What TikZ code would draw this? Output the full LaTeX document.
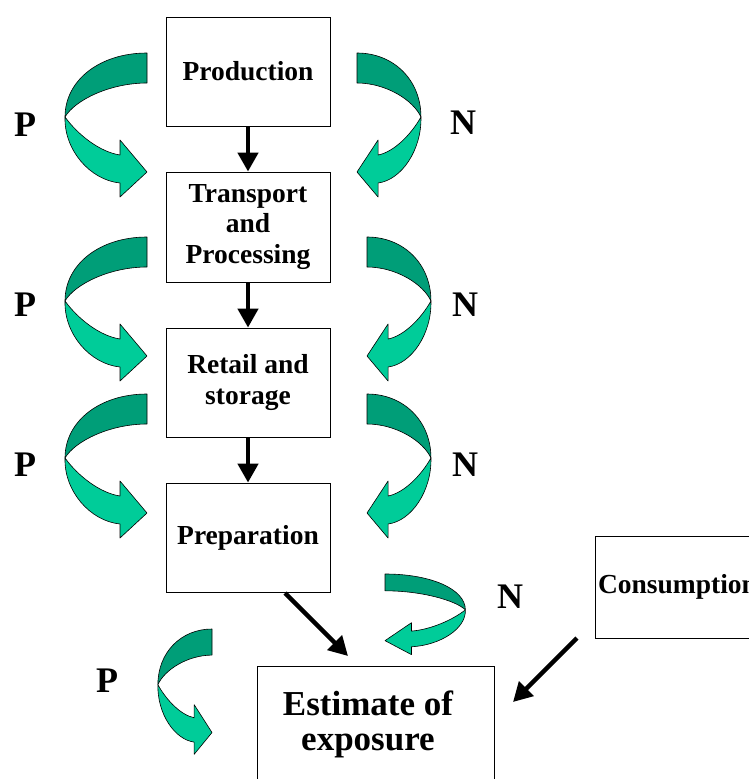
\documentclass[tikz,border=0pt]{standalone}
\usepackage{fontspec}
\setmainfont{Liberation Serif}
\usetikzlibrary{arrows.meta}
\definecolor{backgreen}{RGB}{0,158,120}
\definecolor{frontgreen}{RGB}{0,204,153}
\tikzset{
  stagebox/.style={draw,line width=0.8pt,inner sep=0pt,align=center,
    minimum width=164pt,minimum height=109pt,
    font=\fontsize{27.5}{30.5}\selectfont\bfseries},
  sidelabel/.style={inner sep=0pt,font=\fontsize{36}{36}\selectfont\bfseries},
  flowarrow/.style={line width=4.5pt,-{Triangle[width=20pt,length=19pt]}},
  turnarrow/.pic={
    \filldraw[fill=backgreen,line width=0.6pt,line join=round]
      (0,0) .. controls (-47,0) and (-82,27) .. (-82,64)
      .. controls (-72,47) and (-37,30) .. (0,30) -- cycle;
    \filldraw[fill=frontgreen,line width=0.6pt,line join=round]
      (-82,64) .. controls (-83,97) and (-57,127) .. (-27,130)
      -- (-27,144) -- (0,119) -- (-27,87) -- (-27,102)
      .. controls (-47,99) and (-69,82) .. (-82,64) -- cycle;
  }
}
\begin{document}
\begin{tikzpicture}[x=1pt,y=-1pt]
\clip (0,0) rectangle (749,779);
%stages
\node[stagebox] (prod) at (248,71.5) {Production};
\node[stagebox,minimum height=110pt] (trans) at (248,227) {Transport\\and\\Processing};
\node[stagebox] (retail) at (248,382.5) {Retail and\\storage};
\node[stagebox] (prep) at (248,537.5) {Preparation};
\node[stagebox,minimum width=165pt,minimum height=102pt] (cons) at (677.5,587) {Consumption};
\node[draw,line width=0.8pt,minimum width=237pt,minimum height=140pt,anchor=north west] (est) at (257,666) {};
\node[inner sep=0pt,align=center,font=\fontsize{35}{35}\selectfont\bfseries] (esttext) at (368,724) {Estimate of\\exposure};
%flow
\draw[flowarrow] (prod) -- (trans);
\draw[flowarrow] (trans) -- (retail);
\draw[flowarrow] (retail) -- (prep);
\coordinate (prepout) at (285,593);
\coordinate (estin) at (348,656);
\coordinate (consout) at (577,638);
\coordinate (estside) at (513,702);
\draw[flowarrow] (prepout) -- (estin);
\draw[flowarrow] (consout) -- (estside);
%P side
\pic at (147,53) {turnarrow};
\pic at (147,237) {turnarrow};
\pic at (147,394) {turnarrow};
\pic[xscale=0.66,yscale=0.87] at (212,629) {turnarrow};
\node[sidelabel] (p1) at (25,125) {P};
\node[sidelabel] (p2) at (25,305) {P};
\node[sidelabel] (p3) at (25,465) {P};
\node[sidelabel] (p4) at (107,681) {P};
%N side
\pic[xscale=-0.78] at (357,53) {turnarrow};
\pic[xscale=-0.78] at (367,237) {turnarrow};
\pic[xscale=-0.78] at (367,394) {turnarrow};
\pic[xscale=-0.98,yscale=0.56] at (385,574) {turnarrow};
\node[sidelabel] (n1) at (463,123) {N};
\node[sidelabel] (n2) at (465,305) {N};
\node[sidelabel] (n3) at (465,465) {N};
\node[sidelabel] (n4) at (510,597) {N};
\end{tikzpicture}
\end{document}
